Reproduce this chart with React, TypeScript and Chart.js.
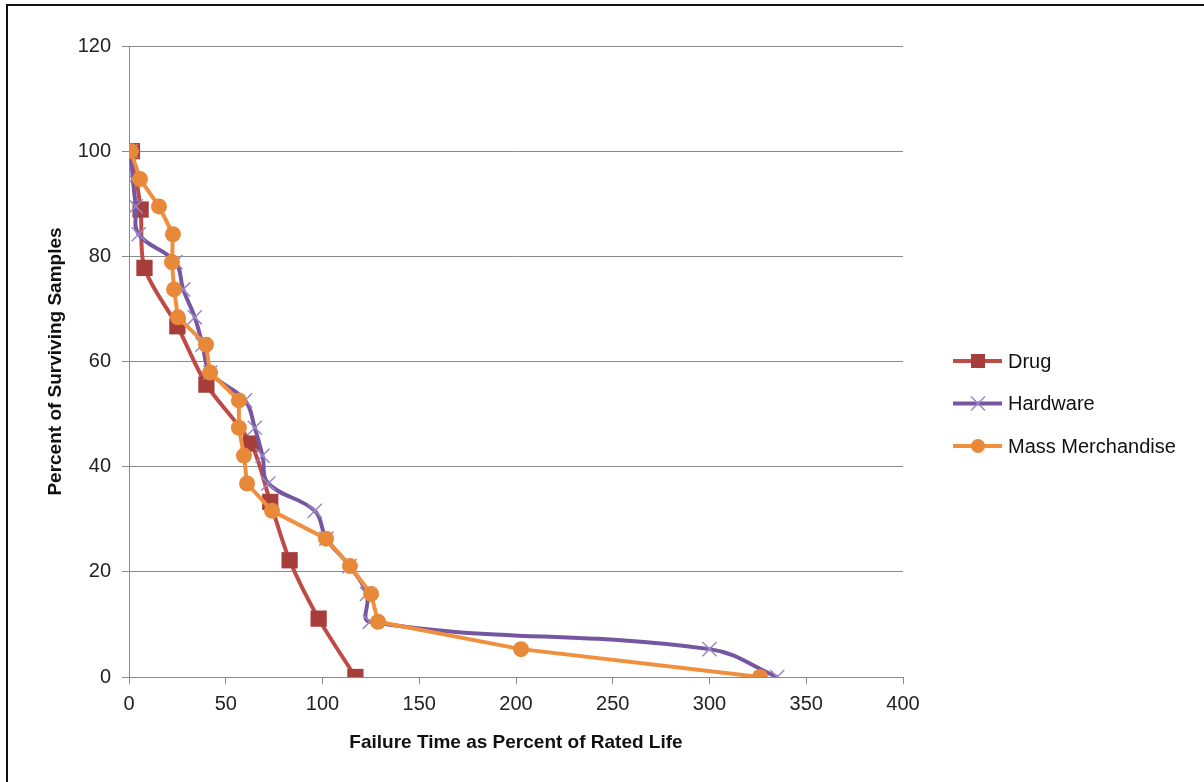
import React, { useEffect, useRef } from 'react';
import { Chart, registerables } from 'chart.js';

Chart.register(...registerables);

// Survival curves: failure time (% of rated life) vs. % of samples still working
const seriesNames = ['Drug', 'Hardware', 'Mass Merchandise'];

const drugX = [1.5, 6, 8, 25, 40, 63, 73, 83, 98, 117];
const drugY = [100, 88.9, 77.8, 66.7, 55.6, 44.4, 33.3, 22.2, 11.1, 0];

const hardwareX = [1, 2, 3.5, 5, 24, 28, 34, 38, 42, 60, 65, 69, 72, 96, 102, 114, 123, 124.5, 300, 335];
const hardwareY = [100, 94.7, 89.5, 84.2, 78.9, 73.7, 68.4, 63.2, 57.9, 52.6, 47.4, 42.1, 36.8, 31.6, 26.3, 21.1, 15.8, 10.5, 5.3, 0];

const massX = [1, 5.7, 15.5, 22.7, 22.2, 23.3, 25.3, 39.8, 41.9, 56.8, 56.8, 59.4, 61, 73.9, 101.8, 114.2, 125.1, 128.7, 202.6, 326.1];
const massY = [100, 94.7, 89.5, 84.2, 78.9, 73.7, 68.4, 63.2, 57.9, 52.6, 47.4, 42.1, 36.8, 31.6, 26.3, 21.1, 15.8, 10.5, 5.3, 0];

const xTicks = [0, 50, 100, 150, 200, 250, 300, 350, 400];
const yTicks = [0, 20, 40, 60, 80, 100, 120];

const xTitle = 'Failure Time as Percent of Rated Life';
const yTitle = 'Percent of Surviving Samples';

const FONT = "'Liberation Sans', Arial, sans-serif";
const GRID = '#8a8a8a';

const toPoints = (xs: number[], ys: number[]) => xs.map((x, i) => ({ x, y: ys[i] }));

function drawMarker(ctx: CanvasRenderingContext2D, ds: any, x: number, y: number) {
  const style = ds.pointStyle;
  ctx.save();
  if (style === 'rect') {
    ctx.fillStyle = ds.pointBackgroundColor;
    ctx.fillRect(x - 7, y - 7, 14, 14);
  } else if (style === 'crossRot') {
    ctx.strokeStyle = ds.pointBorderColor;
    ctx.lineWidth = ds.pointBorderWidth;
    const d = 7;
    ctx.beginPath();
    ctx.moveTo(x - d, y - d);
    ctx.lineTo(x + d, y + d);
    ctx.moveTo(x - d, y + d);
    ctx.lineTo(x + d, y - d);
    ctx.stroke();
  } else {
    ctx.fillStyle = ds.pointBackgroundColor;
    ctx.beginPath();
    ctx.arc(x, y, 7, 0, Math.PI * 2);
    ctx.fill();
  }
  ctx.restore();
}

// Line-and-marker legend drawn to the right of the plot
const seriesLegend = {
  id: 'seriesLegend',
  afterDraw(chart: any) {
    const ctx: CanvasRenderingContext2D = chart.ctx;
    chart.data.datasets.forEach((ds: any, i: number) => {
      const y = 361 + i * 42.5;
      ctx.save();
      ctx.strokeStyle = ds.borderColor;
      ctx.lineWidth = ds.borderWidth;
      ctx.beginPath();
      ctx.moveTo(953, y);
      ctx.lineTo(1002, y);
      ctx.stroke();
      drawMarker(ctx, ds, 978, y);
      ctx.fillStyle = '#111';
      ctx.font = `20px ${FONT}`;
      ctx.textBaseline = 'middle';
      ctx.textAlign = 'left';
      ctx.fillText(ds.label, 1008, y + 1);
      ctx.restore();
    });
  },
};

export default function App() {
  const canvasRef = useRef<HTMLCanvasElement | null>(null);

  useEffect(() => {
    if (!canvasRef.current) return;
    const chart = new Chart(canvasRef.current, {
      type: 'scatter',
      data: {
        datasets: [
          {
            label: seriesNames[0],
            data: toPoints(drugX, drugY),
            showLine: true,
            borderColor: '#be4b48',
            borderWidth: 4,
            tension: 0.3,
            pointStyle: 'rect',
            pointRadius: 11.5,
            pointBackgroundColor: '#a63e3b',
            pointBorderColor: '#a63e3b',
            pointBorderWidth: 0,
            order: 3,
          },
          {
            label: seriesNames[1],
            data: toPoints(hardwareX, hardwareY),
            showLine: true,
            borderColor: '#7656a0',
            borderWidth: 4,
            tension: 0.4,
            pointStyle: 'crossRot',
            pointRadius: 10,
            pointBackgroundColor: 'rgba(0,0,0,0)',
            pointBorderColor: '#9a88c6',
            pointBorderWidth: 1.5,
            order: 2,
          },
          {
            label: seriesNames[2],
            data: toPoints(massX, massY),
            showLine: true,
            borderColor: '#f0903e',
            borderWidth: 4,
            tension: 0,
            pointStyle: 'circle',
            pointRadius: 8,
            pointBackgroundColor: '#e8893a',
            pointBorderColor: '#e8893a',
            pointBorderWidth: 0,
            order: 1,
          },
        ],
      },
      options: {
        animation: false,
        responsive: false,
        layout: { padding: { left: 40, top: 46, right: 301, bottom: 24 } },
        plugins: {
          legend: { display: false },
          tooltip: { enabled: false },
        },
        scales: {
          x: {
            type: 'linear',
            min: 0,
            max: 400,
            afterBuildTicks: (scale: any) => {
              scale.ticks = xTicks.map((v) => ({ value: v }));
            },
            afterFit: (scale: any) => {
              scale.height = 81;
            },
            ticks: {
              color: '#222',
              font: { family: FONT, size: 20 },
              padding: 8,
              maxRotation: 0,
            },
            grid: {
              drawOnChartArea: false,
              drawTicks: true,
              tickLength: 7,
              color: GRID,
              lineWidth: 1,
            },
            border: { display: true, color: GRID, width: 1 },
            title: {
              display: true,
              text: xTitle,
              color: '#111',
              font: { family: FONT, size: 19, weight: 'bold' },
            },
          },
          y: {
            type: 'linear',
            min: 0,
            max: 120,
            afterBuildTicks: (scale: any) => {
              scale.ticks = yTicks.map((v) => ({ value: v }));
            },
            afterFit: (scale: any) => {
              scale.width = 89;
            },
            ticks: {
              color: '#222',
              font: { family: FONT, size: 20 },
              padding: 11,
            },
            grid: {
              drawOnChartArea: true,
              drawTicks: true,
              tickLength: 7,
              color: GRID,
              lineWidth: 1,
            },
            border: { display: true, color: GRID, width: 1 },
            title: {
              display: true,
              text: yTitle,
              color: '#111',
              font: { family: FONT, size: 19, weight: 'bold' },
            },
          },
        },
      },
      plugins: [seriesLegend],
    } as any);
    return () => chart.destroy();
  }, []);

  return (
    <div
      style={{
        position: 'fixed',
        left: 0,
        top: 0,
        width: 1204,
        height: 782,
        overflow: 'hidden',
        background: '#fff',
      }}
    >
      <div
        style={{
          position: 'absolute',
          left: 6,
          top: 4,
          width: 1300,
          height: 900,
          borderLeft: '2px solid #111',
          borderTop: '2px solid #111',
        }}
      />
      <canvas
        ref={canvasRef}
        width={1204}
        height={782}
        style={{ position: 'absolute', left: 0, top: 0, width: 1204, height: 782 }}
      />
    </div>
  );
}
